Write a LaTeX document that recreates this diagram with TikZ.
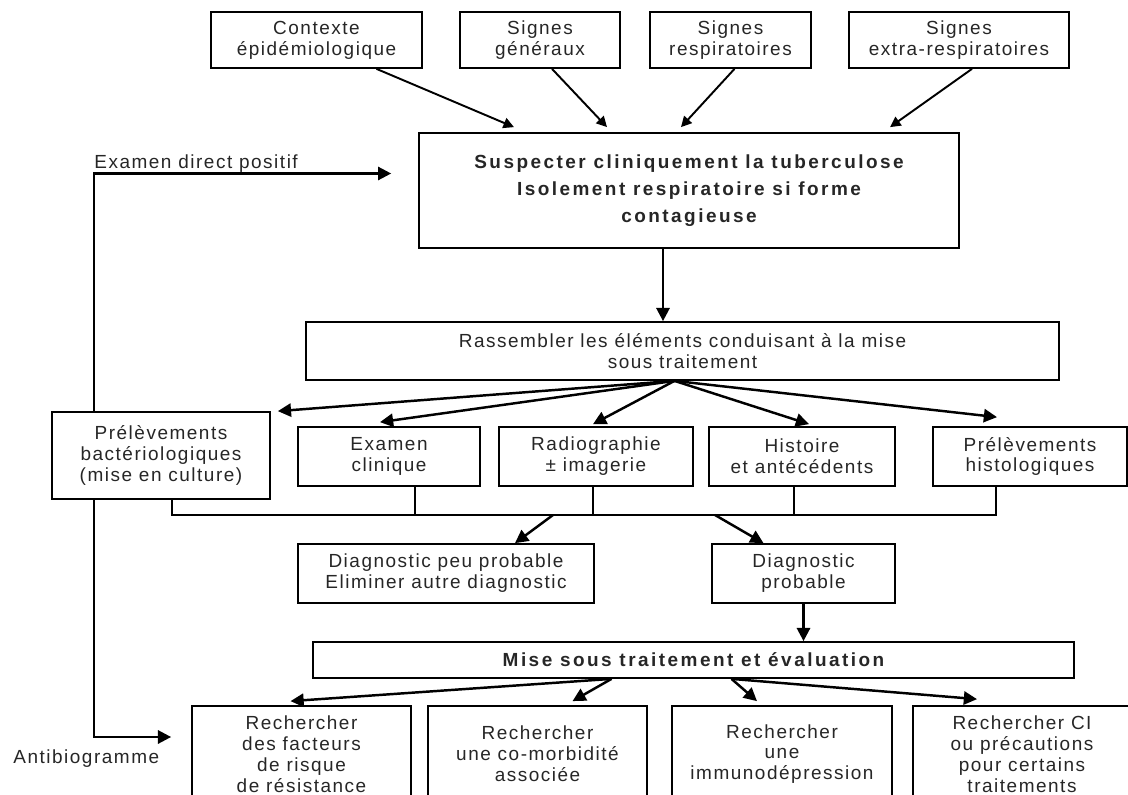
\documentclass[tikz,border=0pt]{standalone}
\usepackage{fontspec}
\setmainfont{Liberation Sans}[LetterSpace=8, BoldFeatures={LetterSpace=13}]
\usetikzlibrary{arrows.meta,calc}

\tikzset{
  boite/.style={draw, line width=1pt, inner sep=0pt, align=center, text=black!85,
    font=\fontsize{10.8}{11.9}\selectfont},
  titre/.style={boite, font=\bfseries\fontsize{10.8}{15.3}\selectfont},
  taille/.style 2 args={minimum width=#1, minimum height=#2},
  lbl/.style={inner sep=0pt, text=black!85, font=\fontsize{10.8}{11.9}\selectfont},
  lien/.style={->, line width=1.1pt},
  fleche/.style={->, line width=1.4pt, >={Triangle[length=7.5pt,width=7.5pt]}},
}

\begin{document}
\begin{tikzpicture}[x=0.02cm, y=-0.02cm, >={Triangle[length=6pt,width=6pt]}]
    % cadre de la page
    \useasboundingbox (0,0) rectangle (1128,794);
    \clip (0,0) rectangle (1128,794);

    % signes d'appel
    \node[boite, taille={4.22cm}{1.12cm}] (ctx)   at (316.5,40) {Contexte\\épidémiologique};
    \node[boite, taille={3.2cm}{1.12cm}]  (gen)   at (540,40)   {Signes\\généraux};
    \node[boite, taille={3.22cm}{1.12cm}] (resp)  at (730.5,40) {Signes\\respiratoires};
    \node[boite, taille={4.4cm}{1.12cm}]  (extra) at (959,40)   {Signes\\extra-respiratoires};

    % suspicion
    \node[titre, taille={10.8cm}{2.3cm}] (susp) at (689,190.5)
      {Suspecter cliniquement la tuberculose\\Isolement respiratoire si forme\\contagieuse};

    \draw[lien] ($(ctx.south)+(60,0)$)   -- ($(susp.north)+(-175,-5)$);
    \draw[lien] ($(gen.south)+(12,0)$)   -- ($(susp.north)+(-82,-5)$);
    \draw[lien] ($(resp.south)+(4,0)$)   -- ($(susp.north)+(-8,-5)$);
    \draw[lien] ($(extra.south)+(13,0)$) -- ($(susp.north)+(201,-5)$);

    % rassembler
    \node[boite, taille={15.06cm}{1.16cm}] (rass) at (682.5,351)
      {Rassembler les éléments conduisant à la mise\\sous traitement};
    \draw[fleche] ($(susp.south)+(-26,0)$) coordinate (s) -- (s |- rass.north);

    % examens
    \node[boite, taille={4.36cm}{1.74cm}] (bact)  at (161,455.5)
      {Prélèvements\\bactériologiques\\(mise en culture)};
    \node[boite, taille={3.64cm}{1.18cm}] (clin)  at (389,456.5)  {Examen\\clinique};
    \node[boite, taille={3.88cm}{1.18cm}] (radio) at (596,456.5)  {Radiographie\\± imagerie};
    \node[boite, taille={3.72cm}{1.18cm}] (hist)  at (802,456.5)  {Histoire\\et antécédents};
    \node[boite, taille={3.88cm}{1.18cm}] (histo) at (1030,456.5) {Prélèvements\\histologiques};

    \coordinate (fan) at ($(rass.south)+(-8,0)$);
    \draw[fleche] (fan) -- ($(bact.north east)+(7,0)$);
    \draw[fleche] (fan) -- ($(clin.north)+(-9,-4)$);
    \draw[fleche] (fan) -- ($(radio.north)+(-3,-2)$);
    \draw[fleche] (fan) -- ($(hist.north)+(7,-2)$);
    \draw[fleche] (fan) -- ($(histo.north)+(-33,-9)$);

    % barre de regroupement
    \coordinate (j1) at (172,515);
    \coordinate (j2) at (415,515);
    \coordinate (j3) at (593,515);
    \coordinate (j4) at (794,515);
    \coordinate (j5) at (996,515);
    \draw[line width=1.1pt] (j1 |- bact.south) -- (j1) -- (j5) -- (j5 |- histo.south);
    \foreach \j/\n in {j2/clin, j3/radio, j4/hist}
      \draw[line width=1.1pt] (\j |- \n.south) -- (\j);

    % diagnostic
    \node[boite, taille={5.92cm}{1.18cm}] (dpeu)  at (446,573.5)
      {Diagnostic peu probable\\Eliminer autre diagnostic};
    \node[boite, taille={3.66cm}{1.18cm}] (dprob) at (803.5,573.5) {Diagnostic\\probable};
    \draw[fleche] (553,515) -- ($(dpeu.north)+(69,0)$);
    \draw[fleche] (715,515) -- ($(dprob.north)+(-40,0)$);

    % traitement
    \node[titre, taille={15.22cm}{0.72cm}] (mise) at (693.5,660)
      {Mise sous traitement et évaluation};
    \draw[fleche] (dprob.south) -- (dprob.south |- mise.north);

    \node[boite, taille={4.38cm}{1.92cm}] (r1) at (301.5,754)
      {Rechercher\\des facteurs\\de risque\\de résistance};
    \node[boite, taille={4.38cm}{1.92cm}] (r2) at (537.5,754)
      {Rechercher\\une co-morbidité\\associée};
    \node[boite, taille={4.4cm}{1.92cm}]  (r3) at (782,754)
      {Rechercher\\une\\immunodépression};
    \node[boite, taille={4.36cm}{1.92cm}] (r4) at (1022,754)
      {Rechercher CI\\ou précautions\\pour certains\\traitements};

    \coordinate (ml) at ($(mise.south)+(-82,0)$);
    \coordinate (mr) at ($(mise.south)+(38,0)$);
    \draw[fleche] (ml) -- ($(r1.north)+(-11,-4)$);
    \draw[fleche] (ml) -- ($(r2.north)+(35,-4)$);
    \draw[fleche] (mr) -- ($(r3.north)+(-25,-4)$);
    \draw[fleche] (mr) -- ($(r4.north)+(-45,-6)$);

    % retours de la bacteriologie
    \node[lbl, anchor=base west] (edp) at (94,168) {Examen direct positif};
    \node[lbl, anchor=base west] (atb) at (13,763) {Antibiogramme};
    \draw[fleche] ($(bact.north)+(-67,0)$) |- ($(susp.west)+(-27,-17)$);
    \draw[fleche] ($(bact.south)+(-67,0)$) |- ($(r1.west)+(-20,-17)$);
\end{tikzpicture}
\end{document}
